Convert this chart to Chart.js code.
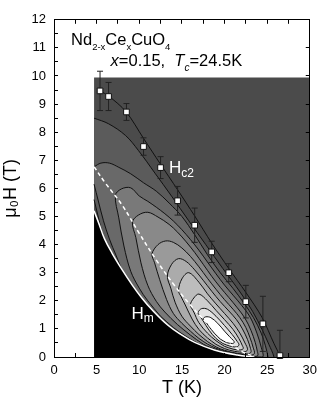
<!DOCTYPE html>
<html>
<head>
<meta charset="utf-8">
<script src="https://cdn.jsdelivr.net/npm/chart.js@4.4.1/dist/chart.umd.min.js"></script>
<style>
  html, body { margin: 0; padding: 0; background: #fff; }
  #wrap { width: 327px; height: 407px; }
</style>
</head>
<body>
<div id="wrap"><canvas id="chart"></canvas></div>
<script>
// Hc2 points, T (K) vs mu0H (T), with symmetric error
const tempK = [5.4, 6.4, 8.5, 10.5, 12.5, 14.5, 16.5, 18.5, 20.5, 22.5, 24.5, 26.5];
const hc2 = [9.47, 9.27, 8.72, 7.49, 6.74, 5.56, 4.69, 3.74, 3.0, 1.97, 1.18, 0.05];
const hc2Err = [0.7, 0.5, 0.3, 0.31, 0.39, 0.51, 0.61, 0.38, 0.32, 0.58, 0.98, 0.9];

// line drawn through the Hc2 points
const hc2Line = [[5.4, 9.47], [6.44, 9.28], [8.45, 8.73], [10.5, 7.78], [12.45, 6.88], [14.5, 5.95],
  [16.5, 5.02], [18.5, 4.05], [20.5, 3.15], [22.5, 2.3], [24.4, 1.41], [25.8, 0.48], [26.5, 0.05]];

// Hm boundary (black below) and the dashed ridge line
const hmLine = [[4.7, 5.2], [5.3, 4.72], [5.9, 4.22], [6.8, 3.7], [8, 3.1], [9.2, 2.55], [10.3, 2.1],
  [11.5, 1.68], [13.4, 1.12], [15, 0.78], [16.5, 0.52], [18.8, 0.25], [21.5, 0.07], [23.5, 0]];
const ridgeLine = [[4.7, 6.77], [6, 6.2], [8, 5.4], [10, 4.4], [12, 3.45], [14, 2.6], [16, 1.85],
  [18, 1.2], [20, 0.62], [22, 0.2], [23.5, 0.02]];

// measured area of the map
const mapT = [4.7, 30];
const mapH = [0, 9.95];

// contour levels, outermost first
const contourA = [[4.7, 8.5], [6.4, 8.3], [8.4, 7.88], [9.9, 7.35], [11.85, 6.54], [13.8, 5.72], [15.8, 4.85],
  [17.8, 4.0], [19.8, 3.15], [21.9, 2.28], [23.3, 1.62], [24.4, 0.98], [25.2, 0.45], [25.8, 0],
  [25.9, -0.4], [20, -0.4], [12, 0.6], [8, 2.6], [6, 4.0], [5.3, 4.85], [4.7, 5.6]];
const contourB = [[4.7, 6.77], [5.5, 6.9], [6.5, 6.9], [7.6, 6.75], [9, 6.52], [10.5, 6.2], [12, 5.9],
  [13.5, 5.48], [15, 5.0], [16.5, 4.35], [18, 3.64], [19.5, 3.0], [21, 2.44], [22.3, 1.91], [23.4, 1.4],
  [24.3, 0.85], [24.8, 0.4], [25.1, 0], [25.2, -0.3], [20, -0.2], [15, 0.35], [11, 1.5], [8.5, 2.75],
  [7.3, 3.6], [6.5, 4.2], [5.8, 4.85], [5.2, 5.55], [4.7, 6.15]];
const contourC = [[12.5, 1.45], [11, 2.0], [10, 2.45], [9, 3.05], [8.2, 3.95], [7.6, 4.95], [7.2, 5.75],
  [7.9, 5.98], [9, 6.02], [10, 5.73], [11, 5.54], [12, 5.33], [13, 5.1], [14, 4.84], [15, 4.53], [16, 4.18],
  [17, 3.8], [18, 3.38], [19, 2.96], [20, 2.56], [21, 2.2], [22, 1.84], [23, 1.42], [23.8, 0.85],
  [24.3, 0.35], [24.5, 0], [23.5, 0], [22.5, 0.03], [20.5, 0.12], [18.5, 0.3], [17, 0.47], [15.5, 0.73],
  [14, 1.05], [12.5, 1.45]];
const contourD = [[16, 0.78], [14.5, 1.15], [13, 1.6], [12, 1.98], [11, 2.55], [10.2, 3.35], [9.6, 4.25],
  [9.2, 4.8], [9.9, 5.05], [11, 5.15], [12.2, 4.98], [13.5, 4.72], [14.5, 4.44], [15.5, 4.1], [16.5, 3.72],
  [17.5, 3.3], [18.5, 2.87], [19.5, 2.48], [20.5, 2.12], [21.5, 1.75], [22.4, 1.38], [23.1, 0.95],
  [23.6, 0.52], [23.85, 0.2], [23.9, 0.05], [23.4, 0.02], [22, 0.06], [20.5, 0.15], [19, 0.27],
  [17.5, 0.46], [16, 0.78]];
const contourE = [[18, 0.46], [17, 0.66], [16, 0.92], [15, 1.2], [14, 1.55], [13.2, 2.05], [12.4, 2.75],
  [11.8, 3.35], [11.5, 3.67], [12.2, 4.0], [13.1, 4.13], [14, 4.08], [15, 3.88], [16, 3.58], [17, 3.21],
  [18, 2.8], [19, 2.41], [20, 2.04], [21, 1.7], [21.8, 1.4], [22.5, 1.05], [23.0, 0.68], [23.35, 0.35],
  [23.5, 0.12], [23.0, 0.07], [21.8, 0.1], [20.5, 0.18], [19, 0.31], [18, 0.46]];
const contourF = [[18, 0.55], [17, 0.8], [16, 1.1], [15, 1.45], [14.2, 1.95], [13.7, 2.45], [13.3, 2.88],
  [13.8, 3.3], [14.6, 3.5], [15.5, 3.4], [16.5, 3.1], [17.5, 2.73], [18.5, 2.34], [19.5, 1.97],
  [20.5, 1.64], [21.4, 1.33], [22.1, 1.0], [22.7, 0.62], [23.05, 0.3], [23.1, 0.17], [22.7, 0.11],
  [21.5, 0.13], [20, 0.24], [19, 0.36], [18, 0.55]];
const contourG = [[19, 0.45], [18, 0.68], [17, 0.98], [16.2, 1.35], [15.4, 1.85], [14.9, 2.15], [14.6, 2.36],
  [15.0, 2.78], [15.8, 3.0], [17, 2.66], [18, 2.25], [19, 1.89], [20, 1.55], [21, 1.2], [21.8, 0.85],
  [22.4, 0.5], [22.7, 0.26], [22.3, 0.18], [21.2, 0.2], [20, 0.3], [19, 0.45]];
const contourH = [[20, 0.38], [19, 0.58], [18, 0.85], [17, 1.22], [16.4, 1.6], [16, 1.85], [16.4, 2.1],
  [17, 2.24], [18, 2.0], [19, 1.66], [20, 1.33], [21, 0.98], [21.7, 0.65], [22.1, 0.4], [22.2, 0.3],
  [21.8, 0.25], [21, 0.28], [20, 0.38]];
const contourI = [[19.8, 0.48], [19, 0.66], [18.2, 0.95], [17.5, 1.28], [17.1, 1.47], [16.9, 1.58],
  [17.3, 1.72], [18, 1.7], [19, 1.45], [20, 1.12], [20.9, 0.8], [21.5, 0.55], [21.7, 0.43], [21.4, 0.36],
  [20.6, 0.39], [19.8, 0.48]];
const contourJ = [[19.5, 0.64], [18.8, 0.85], [18.1, 1.12], [17.7, 1.29], [17.5, 1.36], [17.8, 1.43],
  [18.4, 1.4], [19.2, 1.2], [20, 0.92], [20.6, 0.72], [21, 0.6], [21.15, 0.52], [20.9, 0.48], [20.2, 0.52],
  [19.5, 0.64]];

const contours = [contourA, contourB, contourC, contourD, contourE, contourF, contourG, contourH, contourI, contourJ];
const shades = ['#5b5b5b', '#696969', '#797979', '#898989', '#9a9a9a', '#ababab', '#bcbcbc', '#cecece', '#e2e2e2', '#ffffff'];

const pts = arr => arr.map(([x, y]) => ({x, y}));

const datasets = [];

// grey map area
datasets.push({
  data: pts([[mapT[0], mapH[0]], [mapT[0], mapH[1]], [mapT[1], mapH[1]], [mapT[1], mapH[0]]]),
  order: 100, fill: 'shape', backgroundColor: '#4b4b4b', borderWidth: 0, pointRadius: 0, tension: 0
});

contours.forEach((c, i) => {
  datasets.push({
    data: pts(c), order: 90 - i, fill: 'shape', backgroundColor: shades[i],
    borderColor: '#111', borderWidth: 1, pointRadius: 0, tension: 0.35
  });
});

datasets.push({
  data: pts(hmLine), order: 50, fill: 'origin', backgroundColor: '#000',
  borderColor: '#fff', borderWidth: 1.5, pointRadius: 0, tension: 0.4
});
datasets.push({
  data: pts(ridgeLine), order: 40, fill: false, borderColor: '#fff', borderWidth: 1.5,
  borderDash: [4, 3], pointRadius: 0, tension: 0.4
});
datasets.push({
  data: pts(hc2Line), order: 30, fill: false, borderColor: '#111', borderWidth: 1,
  pointRadius: 0, tension: 0.3
});

// error bars, one gap between each
const errPts = [];
tempK.forEach((t, i) => {
  errPts.push({x: t, y: hc2[i] - hc2Err[i]}, {x: t, y: hc2[i] + hc2Err[i]}, {x: t, y: null});
});
datasets.push({
  data: errPts, order: 20, fill: false, borderColor: '#222', borderWidth: 1, spanGaps: false,
  pointStyle: 'line', pointRadius: 3, pointBorderColor: '#222', pointBorderWidth: 1, tension: 0
});
datasets.push({
  data: tempK.map((t, i) => ({x: t, y: hc2[i]})), order: 10, showLine: false, clip: false,
  pointStyle: 'rect', pointRadius: 4, pointBackgroundColor: '#fff', pointBorderColor: '#111',
  pointBorderWidth: 1
});

// labels inside the plot
const notes = [
  {at: [2.0, 11.12], color: '#000', size: 16.5, subSize: 9.5, drop: 5,
   runs: [['Nd'], ['2-x', 1], ['Ce'], ['x', 1], ['CuO'], ['4', 1]]},
  {at: [6.64, 10.35], color: '#000', size: 16.5, subSize: 10, drop: 5,
   runs: [['x', 0, 1], ['=0.15,  '], ['T', 0, 1], ['c', 1, 1], ['=24.5K']]},
  {at: [13.5, 6.56], color: '#fff', size: 17, subSize: 12, drop: 4.5,
   runs: [['H'], ['c2', 1]]},
  {at: [9.1, 1.35], color: '#fff', size: 17, subSize: 12, drop: 3,
   runs: [['H'], ['m', 1]]}
];

const richText = {
  id: 'richText',
  afterDatasetsDraw(chart) {
    const {ctx} = chart;
    const xs = chart.scales.x, ys = chart.scales.y;
    ctx.save();
    ctx.textBaseline = 'alphabetic';
    notes.forEach(n => {
      let px = xs.getPixelForValue(n.at[0]);
      const py = ys.getPixelForValue(n.at[1]);
      ctx.fillStyle = n.color;
      n.runs.forEach(([text, sub, italic]) => {
        ctx.font = (italic ? 'italic ' : '') + (sub ? n.subSize : n.size) + 'px "Liberation Sans", Arial, sans-serif';
        ctx.fillText(text, px, py + (sub ? n.drop : 0));
        px += ctx.measureText(text).width;
      });
    });
    ctx.restore();
  }
};

Chart.defaults.font.family = '"Liberation Sans", Arial, sans-serif';
Chart.defaults.color = '#000';

const tickFont = {size: 13};
const titleFont = {size: 18};
const gridOpts = {drawOnChartArea: false, tickLength: -4, color: '#000', z: 1};
const borderOpts = {color: '#000', width: 1, z: 1};

new Chart(document.getElementById('chart'), {
  type: 'line',
  data: {datasets},
  options: {
    responsive: true,
    maintainAspectRatio: false,
    animation: false,
    events: [],
    layout: {padding: 0},
    plugins: {legend: {display: false}, tooltip: {enabled: false}},
    scales: {
      x: {
        type: 'linear', position: 'bottom', min: 0, max: 30,
        ticks: {stepSize: 2.5, autoSkip: false, maxRotation: 0, padding: 10, font: tickFont,
          callback: v => (v % 5 === 0 ? v : '')},
        grid: gridOpts, border: borderOpts,
        title: {display: true, text: 'T (K)', font: titleFont, padding: {top: 0, bottom: 8}},
        afterFit: s => { s.height = 50; }
      },
      xTop: {
        type: 'linear', position: 'top', min: 0, max: 30,
        ticks: {stepSize: 2.5, autoSkip: false, callback: () => ''},
        grid: gridOpts, border: borderOpts,
        afterFit: s => { s.height = 14; }
      },
      y: {
        type: 'linear', position: 'left', min: 0, max: 12,
        ticks: {stepSize: 0.5, autoSkip: false, padding: 12, font: tickFont,
          callback: v => (Number.isInteger(v) ? v : '')},
        grid: gridOpts, border: borderOpts,
        title: {display: true, text: 'μ₀H (T)', font: titleFont, padding: 0},
        afterFit: s => { s.width = 54; }
      },
      yRight: {
        type: 'linear', position: 'right', min: 0, max: 12,
        ticks: {stepSize: 1, autoSkip: false, callback: () => ''},
        grid: gridOpts, border: borderOpts,
        afterFit: s => { s.width = 14; }
      }
    }
  },
  plugins: [richText]
});
</script>
</body>
</html>
